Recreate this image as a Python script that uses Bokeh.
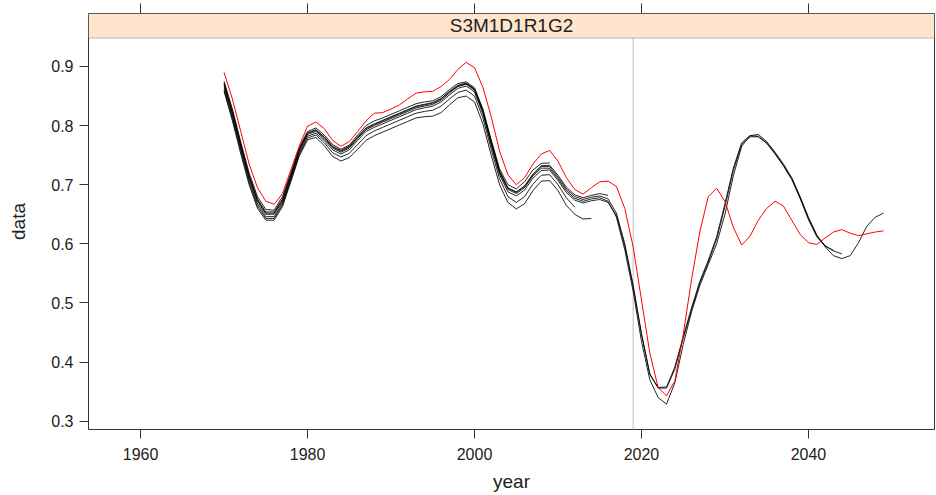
from bokeh.plotting import figure
from bokeh.models import Range1d, FixedTicker, LinearAxis, BoxAnnotation, Label
from bokeh.embed import file_html
from bokeh.resources import INLINE

# ---------------- data ----------------
start_year = 1970
panel_title = "S3M1D1R1G2"
ref_year = 2019
x_ticks = [1960, 1980, 2000, 2020, 2040]
y_ticks = [0.3, 0.4, 0.5, 0.6, 0.7, 0.8, 0.9]

# red series (1970-2049)
red = [0.890, 0.845, 0.790, 0.735, 0.695, 0.672, 0.667, 0.685, 0.725, 0.765,
       0.799, 0.806, 0.795, 0.775, 0.765, 0.773, 0.790, 0.808, 0.821, 0.822,
       0.828, 0.835, 0.845, 0.855, 0.857, 0.858, 0.866, 0.878, 0.895, 0.907,
       0.898, 0.865, 0.815, 0.757, 0.717, 0.700, 0.712, 0.735, 0.752, 0.758,
       0.740, 0.712, 0.692, 0.684, 0.695, 0.705, 0.706, 0.697, 0.660, 0.595,
       0.505, 0.415, 0.357, 0.343, 0.368, 0.447, 0.540, 0.621, 0.680, 0.694,
       0.672, 0.628, 0.598, 0.613, 0.640, 0.660, 0.672, 0.664, 0.640, 0.616,
       0.602, 0.599, 0.610, 0.620, 0.624, 0.618, 0.614, 0.617, 0.620, 0.622]

# black series A (1970-2049)
black_a = [0.868, 0.820, 0.765, 0.712, 0.672, 0.650, 0.650, 0.672, 0.713, 0.757,
           0.785, 0.790, 0.778, 0.762, 0.755, 0.762, 0.778, 0.793, 0.800, 0.806,
           0.812, 0.818, 0.824, 0.830, 0.833, 0.836, 0.843, 0.855, 0.866, 0.870,
           0.860, 0.823, 0.770, 0.720, 0.692, 0.685, 0.695, 0.715, 0.728, 0.728,
           0.710, 0.690, 0.677, 0.672, 0.676, 0.678, 0.672, 0.645, 0.590, 0.520,
           0.435, 0.370, 0.340, 0.329, 0.365, 0.430, 0.485, 0.530, 0.565, 0.600,
           0.650, 0.715, 0.765, 0.783, 0.785, 0.773, 0.755, 0.735, 0.712, 0.680,
           0.645, 0.615, 0.595, 0.580, 0.575, 0.580, 0.602, 0.630, 0.645, 0.652]

# black series B (1970-2044)
black_b = [0.872, 0.824, 0.769, 0.716, 0.676, 0.654, 0.654, 0.676, 0.717, 0.760,
           0.788, 0.793, 0.781, 0.765, 0.758, 0.765, 0.781, 0.796, 0.803, 0.809,
           0.815, 0.821, 0.827, 0.833, 0.836, 0.839, 0.846, 0.858, 0.868, 0.872,
           0.862, 0.826, 0.773, 0.723, 0.695, 0.688, 0.698, 0.718, 0.731, 0.731,
           0.713, 0.693, 0.680, 0.675, 0.679, 0.681, 0.676, 0.652, 0.600, 0.530,
           0.448, 0.380, 0.357, 0.358, 0.392, 0.443, 0.492, 0.537, 0.572, 0.612,
           0.668, 0.728, 0.771, 0.783, 0.782, 0.771, 0.753, 0.733, 0.710, 0.678,
           0.643, 0.614, 0.597, 0.588, 0.583]

# black series C (1970-2043)
black_c = [0.864, 0.816, 0.761, 0.708, 0.668, 0.646, 0.646, 0.669, 0.710, 0.754,
           0.782, 0.787, 0.775, 0.759, 0.752, 0.759, 0.775, 0.790, 0.797, 0.803,
           0.809, 0.815, 0.821, 0.827, 0.830, 0.833, 0.840, 0.852, 0.863, 0.867,
           0.857, 0.820, 0.767, 0.717, 0.688, 0.681, 0.691, 0.711, 0.724, 0.725,
           0.707, 0.687, 0.674, 0.669, 0.673, 0.675, 0.670, 0.648, 0.596, 0.528,
           0.447, 0.379, 0.356, 0.356, 0.388, 0.440, 0.489, 0.534, 0.569, 0.608,
           0.663, 0.724, 0.768, 0.781, 0.781, 0.770, 0.752, 0.732, 0.709, 0.677,
           0.641, 0.612, 0.596, 0.589]

# black series D (1970-2014)
black_d = [0.858, 0.808, 0.752, 0.700, 0.660, 0.640, 0.640, 0.663, 0.705, 0.748,
           0.776, 0.780, 0.766, 0.748, 0.740, 0.746, 0.760, 0.775, 0.783, 0.789,
           0.795, 0.801, 0.807, 0.813, 0.815, 0.816, 0.822, 0.835, 0.847, 0.850,
           0.840, 0.803, 0.750, 0.700, 0.670, 0.659, 0.668, 0.690, 0.706, 0.707,
           0.690, 0.665, 0.650, 0.642, 0.643]

# black series E (1970-2009)
black_e = [0.875, 0.828, 0.772, 0.720, 0.680, 0.658, 0.657, 0.680, 0.720, 0.763,
           0.790, 0.796, 0.784, 0.768, 0.760, 0.767, 0.784, 0.800, 0.808, 0.813,
           0.819, 0.825, 0.831, 0.837, 0.840, 0.842, 0.849, 0.861, 0.871, 0.874,
           0.864, 0.828, 0.776, 0.727, 0.700, 0.693, 0.705, 0.725, 0.736, 0.737]

# black series F (1970-2012)
black_f = [0.860, 0.812, 0.757, 0.704, 0.664, 0.643, 0.643, 0.666, 0.708, 0.751,
           0.779, 0.784, 0.771, 0.754, 0.747, 0.753, 0.768, 0.783, 0.791, 0.797,
           0.803, 0.809, 0.815, 0.821, 0.824, 0.826, 0.833, 0.845, 0.856, 0.860,
           0.850, 0.813, 0.760, 0.710, 0.680, 0.670, 0.680, 0.701, 0.716, 0.717,
           0.700, 0.678, 0.662]

# black series G (1970-2016)
black_g = [0.870, 0.822, 0.767, 0.714, 0.674, 0.652, 0.652, 0.674, 0.715, 0.759,
           0.787, 0.792, 0.780, 0.764, 0.757, 0.764, 0.780, 0.795, 0.802, 0.808,
           0.814, 0.820, 0.826, 0.832, 0.835, 0.838, 0.845, 0.857, 0.867, 0.871,
           0.861, 0.825, 0.772, 0.722, 0.694, 0.687, 0.697, 0.717, 0.732, 0.733,
           0.716, 0.696, 0.683, 0.678, 0.682, 0.685, 0.682]

black_series = [black_d, black_f, black_e, black_g, black_c, black_b, black_a]

# ---------------- layout ----------------
x_lo, x_hi = 1953.76, 2055.1
y_lo, y_hi = 0.286, 0.9896
strip_bottom = 0.948
FONT = "Liberation Sans"
TXT = "#222222"

p = figure(width=936, height=495, output_backend="svg", toolbar_location=None,
           x_range=Range1d(x_lo, x_hi), y_range=Range1d(y_lo, y_hi),
           min_border_left=88, min_border_right=2, min_border_top=13,
           min_border_bottom=66, x_axis_label="year", y_axis_label="data")
p.grid.visible = False
p.outline_line_color = "#333333"
p.outline_line_width = 1
p.background_fill_color = "white"
p.border_fill_color = "white"

for ax in (p.xaxis[0], p.yaxis[0]):
    ax.axis_line_color = None
    ax.major_tick_line_color = "#333333"
    ax.major_tick_in = 0
    ax.major_tick_out = 9
    ax.minor_tick_line_color = None
    ax.major_label_text_font = FONT
    ax.major_label_text_font_size = "16px"
    ax.major_label_text_color = TXT
    ax.axis_label_text_font = FONT
    ax.axis_label_text_font_size = "19px"
    ax.axis_label_text_font_style = "normal"
    ax.axis_label_text_color = TXT

p.xaxis[0].ticker = FixedTicker(ticks=x_ticks)
p.yaxis[0].ticker = FixedTicker(ticks=y_ticks)
p.xaxis[0].major_label_standoff = 9
p.xaxis[0].axis_label_standoff = 8
p.yaxis[0].major_label_standoff = 6
p.yaxis[0].axis_label_standoff = 19

top = LinearAxis(ticker=FixedTicker(ticks=x_ticks))
top.axis_line_color = None
top.major_tick_line_color = "#333333"
top.major_tick_in = 0
top.major_tick_out = 10
top.minor_tick_line_color = None
top.major_label_text_font_size = "0px"
top.major_label_standoff = 0
top.major_label_overrides = {t: "" for t in x_ticks}
p.add_layout(top, "above")

# strip
strip = BoxAnnotation(bottom=strip_bottom, fill_color="#FFE5CC", fill_alpha=1.0,
                      line_color="#333333", line_width=1)
p.add_layout(strip)
p.add_layout(Label(x=(x_lo + x_hi) / 2, y=(strip_bottom + y_hi) / 2, text=panel_title,
                   text_align="center", text_baseline="middle",
                   text_font=FONT, text_font_size="19px", text_color=TXT))

# reference vertical line
p.segment(x0=[ref_year], y0=[y_lo], x1=[ref_year], y1=[strip_bottom],
          line_color="#BEBEBE", line_width=1)

for s in black_series:
    yrs = list(range(start_year, start_year + len(s)))
    p.line(yrs, s, line_color="black", line_width=1, line_alpha=0.85)

yrs_r = list(range(start_year, start_year + len(red)))
p.line(yrs_r, red, line_color="#FF0000", line_width=1)

open("out.html", "w").write(file_html(p, INLINE))
